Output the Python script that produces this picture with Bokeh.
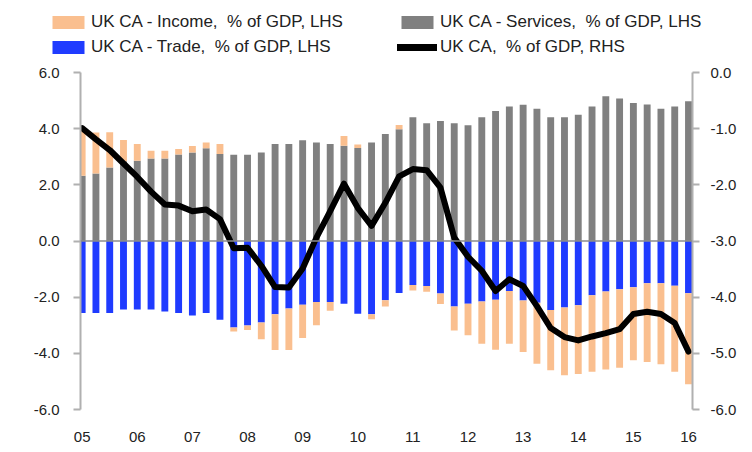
from bokeh.plotting import figure
from bokeh.layouts import column
from bokeh.models import (Range1d, LinearAxis, FixedTicker, Span, Legend, LegendItem,
                          ColumnDataSource, PrintfTickFormatter)
from bokeh.embed import file_html
from bokeh.resources import INLINE

# ---- data (quarterly, 2005Q1 .. 2016Q1) ----
year_labels = ["05", "06", "07", "08", "09", "10", "11", "12", "13", "14", "15", "16"]

services = [2.32, 2.40, 2.62, 2.84, 2.86, 2.94, 2.94, 3.08, 3.15, 3.30, 3.10, 3.07,
            3.07, 3.15, 3.45, 3.45, 3.59, 3.51, 3.45, 3.39, 3.31, 3.51, 3.81, 3.98,
            4.41, 4.19, 4.27, 4.19, 4.12, 4.41, 4.63, 4.79, 4.85, 4.71, 4.41, 4.41,
            4.50, 4.79, 5.15, 5.07, 4.91, 4.86, 4.71, 4.79, 4.98]

trade = [-2.56, -2.56, -2.56, -2.44, -2.44, -2.44, -2.51, -2.56, -2.65, -2.56, -2.80, -3.08,
         -3.01, -2.90, -2.61, -2.40, -2.27, -2.17, -2.17, -2.23, -2.59, -2.61, -2.11, -1.85,
         -1.57, -1.60, -1.87, -2.33, -2.23, -2.15, -2.09, -1.78, -2.12, -2.20, -2.46, -2.37,
         -2.29, -1.93, -1.80, -1.72, -1.65, -1.50, -1.50, -1.59, -1.86]

income = [1.62, 1.46, 1.25, 0.76, 0.59, 0.27, 0.27, 0.20, 0.23, 0.21, 0.35, -0.14,
          -0.16, -0.60, -1.27, -1.48, -1.18, -0.83, -0.31, 0.35, 0.13, -0.18, -0.22, 0.15,
          -0.19, -0.21, -0.37, -0.86, -1.13, -1.51, -1.78, -1.88, -1.83, -2.17, -2.14, -2.41,
          -2.45, -2.73, -2.78, -2.79, -2.60, -2.81, -2.89, -3.07, -3.24]

current_account = [-0.99, -1.19, -1.38, -1.62, -1.86, -2.12, -2.35, -2.37, -2.47, -2.44, -2.61, -3.13,
                   -3.12, -3.44, -3.82, -3.83, -3.49, -2.94, -2.47, -1.98, -2.41, -2.73, -2.32, -1.85,
                   -1.72, -1.74, -2.05, -2.94, -3.28, -3.53, -3.89, -3.68, -3.80, -4.16, -4.55, -4.71,
                   -4.77, -4.70, -4.64, -4.57, -4.30, -4.26, -4.30, -4.46, -4.97]

series_names = ["UK CA - Income,  % of GDP, LHS", "UK CA - Trade,  % of GDP, LHS",
                "UK CA - Services,  % of GDP, LHS", "UK CA,  % of GDP, RHS"]

left_ticks = [-6, -4, -2, 0, 2, 4, 6]
right_ticks = [-6, -5, -4, -3, -2, -1, 0]

# ---- derived stacking ----
n = len(services)
x = list(range(n))
inc_bottom = [services[i] if income[i] >= 0 else trade[i] + income[i] for i in range(n)]
inc_top = [services[i] + income[i] if income[i] >= 0 else trade[i] for i in range(n)]

ORANGE = "#fabf8f"
GRAY = "#808080"
BLUE = "#1f3bff"
AXIS = "#b0b0b0"
TXT = "#222222"
FONT = "Liberation Sans"
W = 744
LEG_H = 58

src = ColumnDataSource(dict(x=x, s=services, t=trade, ib=inc_bottom, it=inc_top,
                            ca=current_account, zero=[0] * n))

# ---------------- main chart ----------------
p = figure(width=W, height=444 - LEG_H, output_backend="svg", toolbar_location=None,
           x_range=Range1d(-0.12, 44.29), y_range=Range1d(-6, 6),
           min_border_left=80, min_border_right=52, min_border_top=72 - LEG_H,
           min_border_bottom=35)
p.frame_align = False
p.outline_line_color = None
p.grid.visible = False
p.extra_y_ranges = {"rhs": Range1d(-6, 0)}

p.add_layout(Span(location=0, dimension="width", line_color="#8c8c8c", line_width=1.5))

p.vbar(x="x", bottom="zero", top="s", width=0.5, source=src, fill_color=GRAY, line_color=None)
p.vbar(x="x", bottom="t", top="zero", width=0.5, source=src, fill_color=BLUE, line_color=None)
p.vbar(x="x", bottom="ib", top="it", width=0.5, source=src, fill_color=ORANGE, line_color=None)
p.line(x="x", y="ca", source=src, y_range_name="rhs", line_color="black",
       line_width=6, line_join="round", line_cap="round")

xa = p.xaxis[0]
xa.ticker = FixedTicker(ticks=list(range(0, n, 4)))
xa.major_label_overrides = {i * 4: lab for i, lab in enumerate(year_labels)}
xa.axis_line_color = None
xa.major_tick_line_color = None
xa.minor_tick_line_color = None
xa.major_label_standoff = 16
xa.major_label_text_font = FONT
xa.major_label_text_font_size = "15px"
xa.major_label_text_color = TXT

def style_y(ax, standoff):
    ax.axis_line_color = AXIS
    ax.axis_line_width = 2
    ax.major_tick_line_color = AXIS
    ax.major_tick_line_width = 2
    ax.major_tick_out = 7
    ax.major_tick_in = 0
    ax.minor_tick_line_color = None
    ax.major_label_standoff = standoff
    ax.major_label_text_font = FONT
    ax.major_label_text_font_size = "15px"
    ax.major_label_text_color = TXT

ya = p.yaxis[0]
ya.ticker = FixedTicker(ticks=left_ticks)
ya.formatter = PrintfTickFormatter(format="%.1f")
style_y(ya, 14)

ra = LinearAxis(y_range_name="rhs", ticker=FixedTicker(ticks=right_ticks),
                formatter=PrintfTickFormatter(format="%.1f"))
style_y(ra, 11)
p.add_layout(ra, "right")

# ---------------- legend strip ----------------
lf = figure(width=W, height=LEG_H, output_backend="svg", toolbar_location=None,
            x_range=Range1d(1000, 1001), y_range=Range1d(1000, 1001),
            x_axis_type=None, y_axis_type=None,
            min_border=0, min_border_left=0, min_border_right=0,
            min_border_top=0, min_border_bottom=0)
lf.frame_align = False
lf.outline_line_color = None
lf.grid.visible = False
l_inc = lf.vbar(x="x", bottom="ib", top="it", width=0.5, source=src, fill_color=ORANGE, line_color=None)
l_trade = lf.vbar(x="x", bottom="t", top="zero", width=0.5, source=src, fill_color=BLUE, line_color=None)
l_serv = lf.vbar(x="x", bottom="zero", top="s", width=0.5, source=src, fill_color=GRAY, line_color=None)
l_ca = lf.line(x="x", y="ca", source=src, line_color="black", line_width=7, line_cap="round")

def make_legend(items, loc):
    lg = Legend(items=items, location=loc, orientation="vertical")
    lg.border_line_color = None
    lg.background_fill_alpha = 0
    lg.padding = 0
    lg.margin = 0
    lg.spacing = 5
    lg.glyph_width = 40
    lg.glyph_height = 16
    lg.label_height = 20
    lg.label_standoff = 3
    lg.label_text_font = FONT
    lg.label_text_font_size = "17px"
    lg.label_text_color = TXT
    return lg

leg1 = make_legend([LegendItem(label=series_names[0], renderers=[l_inc]),
                    LegendItem(label=series_names[1], renderers=[l_trade])], (48, 1))
leg2 = make_legend([LegendItem(label=series_names[2], renderers=[l_serv]),
                    LegendItem(label=series_names[3], renderers=[l_ca])], (397, 1))
lf.add_layout(leg1, "center")
lf.add_layout(leg2, "center")

layout = column(lf, p, spacing=0)
open("out.html", "w").write(file_html(layout, INLINE))
